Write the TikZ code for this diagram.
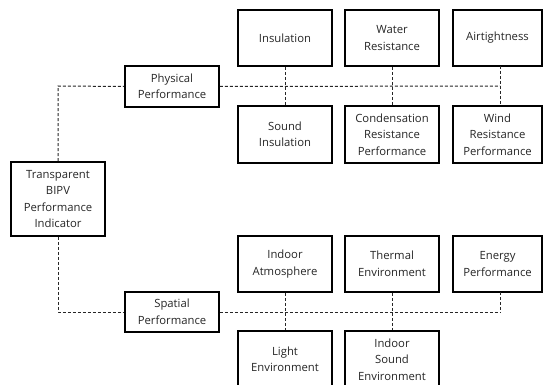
\documentclass[tikz,border=0pt]{standalone}
\usepackage{fontspec}
\setmainfont{Open Sans}
\begin{document}
\begin{tikzpicture}[x=1pt,y=-1pt,
  box/.style={draw=black,line width=1.6pt,minimum width=94pt,minimum height=56pt,align=center,inner sep=1pt,font=\fontsize{11.3}{16.5}\selectfont,text=black!85},
  rbox/.style={box,minimum width=89pt},
  cat/.style={box,minimum height=41pt},
  link/.style={draw=black!85,line width=1pt,dash pattern=on 3pt off 2pt}]
\useasboundingbox (0,0) rectangle (543,385);
\clip (0,0) rectangle (543,385);
\fill[white] (0,0) rectangle (543,385);
% root
\node[box,minimum height=74pt] (root) at (58,199) {Transparent\\BIPV\\Performance\\Indicator};
% categories
\node[cat] (phys) at (172,86.5) {Physical\\Performance};
\node[cat,minimum height=40pt] (spat) at (172,312) {Spatial\\Performance};
% physical group
\node[box] (ins) at (285,38) {Insulation};
\node[box] (wat) at (392,38) {Water\\Resistance};
\node[rbox] (air) at (497.5,38) {Airtightness};
\node[box,minimum height=57pt] (snd) at (285,134.5) {Sound\\Insulation};
\node[box,minimum height=57pt] (con) at (392,134.5) {Condensation\\Resistance\\Performance};
\node[rbox,minimum height=57pt] (wind) at (497.5,134.5) {Wind\\Resistance\\Performance};
% spatial group
\node[box] (atm) at (285,264) {Indoor\\Atmosphere};
\node[box] (thm) at (392,264) {Thermal\\Environment};
\node[rbox] (eng) at (497.5,264) {Energy\\Performance};
\node[box,minimum height=57pt] (lgt) at (285,359.5) {Light\\Environment};
\node[box,minimum height=57pt] (isd) at (392,359.5) {Indoor\\Sound\\Environment};
% connectors
\coordinate (pc) at (58,86);
\coordinate (pe) at (500,86);
\coordinate (sc) at (58,312);
\coordinate (se) at (500,312);
\path[link] (root.north) -- (pc) -- (phys.west);
\path[link] (phys.east) -- (pe);
\path[link] (ins.south) -- (snd.north);
\path[link] (wat.south) -- (con.north);
\path[link] (500,66) -- (500,106);
\path[link] (root.south) -- (sc) -- (spat.west);
\path[link] (spat.east) -- (se);
\path[link] (atm.south) -- (lgt.north);
\path[link] (thm.south) -- (isd.north);
\path[link] (500,292) -- (se);
\end{tikzpicture}
\end{document}
